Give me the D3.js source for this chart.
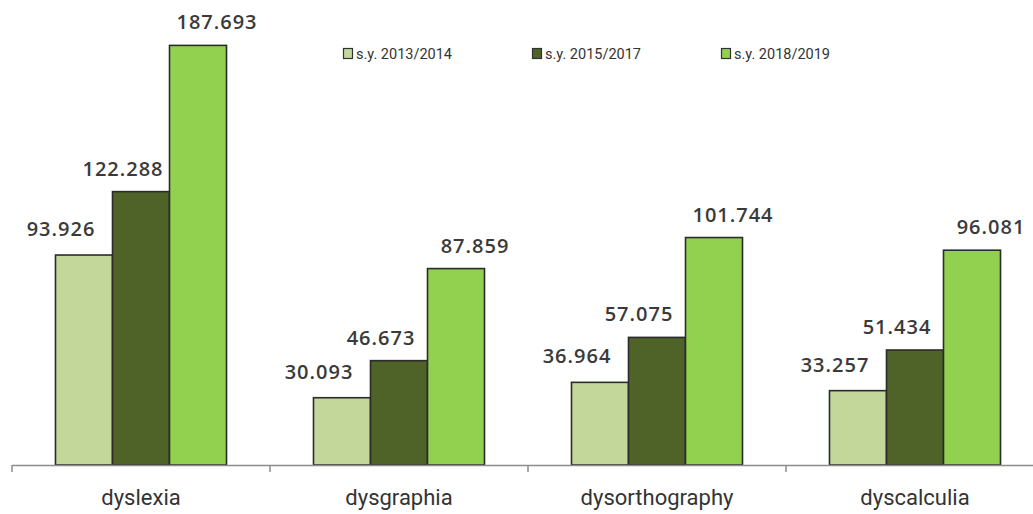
<!DOCTYPE html>
<html>
<head>
<meta charset="utf-8">
<script src="https://cdn.jsdelivr.net/npm/d3@7"></script>
<style>
  html, body { margin: 0; padding: 0; background: #fff; }
  svg { display: block; }
</style>
</head>
<body>
<svg id="chart" width="1033" height="514"></svg>
<script>
// Pupils with specific learning disorders, by school year
const categories = ["dyslexia", "dysgraphia", "dysorthography", "dyscalculia"];
const seriesNames = ["s.y. 2013/2014", "s.y. 2015/2017", "s.y. 2018/2019"];
const values2013 = [93.926, 30.093, 36.964, 33.257];
const values2015 = [122.288, 46.673, 57.075, 51.434];
const values2018 = [187.693, 87.859, 101.744, 96.081];
const labels2013 = ["93.926", "30.093", "36.964", "33.257"];
const labels2015 = ["122.288", "46.673", "57.075", "51.434"];
const labels2018 = ["187.693", "87.859", "101.744", "96.081"];

const seriesValues = [values2013, values2015, values2018];
const seriesLabels = [labels2013, labels2015, labels2018];
const colors = ["#c4d79b", "#4f6228", "#92d050"];
// horizontal nudge of each series' value labels relative to bar centre
const labelDx = [-23, -18, 19];
const labelDy = [-19, -16, -16];

const svg = d3.select("#chart");
const baseY = 465;

const x0 = d3.scaleBand().domain(categories).range([12, 1044]).padding(0);
const x1 = d3.scaleBand().domain(d3.range(seriesNames.length))
  .range([0, x0.bandwidth()]).paddingInner(0).paddingOuter(0.763);
const y = d3.scaleLinear().domain([0, 208]).range([baseY, 0]);

// bars
const groups = svg.selectAll("g.cat").data(categories).join("g")
  .attr("class", "cat")
  .attr("transform", d => `translate(${x0(d)},0)`);

seriesNames.forEach((s, si) => {
  groups.append("rect")
    .attr("x", (d, ci) => x1(si))
    .attr("y", (d, ci) => y(seriesValues[si][ci]))
    .attr("width", x1.bandwidth())
    .attr("height", (d, ci) => baseY - y(seriesValues[si][ci]))
    .attr("fill", colors[si])
    .attr("stroke", "#2b2b2b")
    .attr("stroke-width", 1.6);
});

// value labels
seriesNames.forEach((s, si) => {
  groups.append("text")
    .attr("x", (d, ci) => x1(si) + x1.bandwidth() / 2 + labelDx[si])
    .attr("y", (d, ci) => y(seriesValues[si][ci]) + labelDy[si])
    .attr("text-anchor", "middle")
    .attr("font-family", "'Open Sans', sans-serif")
    .attr("font-weight", 600)
    .attr("font-size", 20)
    .attr("letter-spacing", 1)
    .attr("fill", "#3a3a3a")
    .text((d, ci) => seriesLabels[si][ci]);
});

// category axis
const axis = d3.axisBottom(x0).tickSize(0).tickPadding(24);
const ax = svg.append("g").attr("transform", `translate(0,${baseY})`).call(axis);
ax.select(".domain").remove();
ax.append("line").attr("x1", 12).attr("x2", 1044).attr("y1", 0.5).attr("y2", 0.5)
  .attr("stroke", "#8c8c8c").attr("stroke-width", 1.5);
x0.domain().concat([null]).forEach((c, i) => {
  const xp = c === null ? 1044 : x0(c);
  ax.append("line").attr("x1", xp).attr("x2", xp).attr("y1", 0).attr("y2", 7)
    .attr("stroke", "#8c8c8c").attr("stroke-width", 1.5);
});
ax.selectAll(".tick text")
  .attr("font-family", "Roboto, sans-serif")
  .attr("font-size", 22)
  .attr("fill", "#333");

// legend
const legend = svg.append("g").attr("transform", "translate(343,48)");
seriesNames.forEach((s, si) => {
  const g = legend.append("g").attr("transform", `translate(${si * 189},0)`);
  g.append("rect").attr("x", 0.5).attr("y", 0.5).attr("width", 9).attr("height", 10)
    .attr("fill", colors[si]).attr("stroke", "#333").attr("stroke-width", 1.2);
  g.append("text").attr("x", 13).attr("y", 10.5)
    .attr("font-family", "Roboto, sans-serif")
    .attr("font-size", 14.5)
    .attr("fill", "#333")
    .text(s);
});
</script>
</body>
</html>
